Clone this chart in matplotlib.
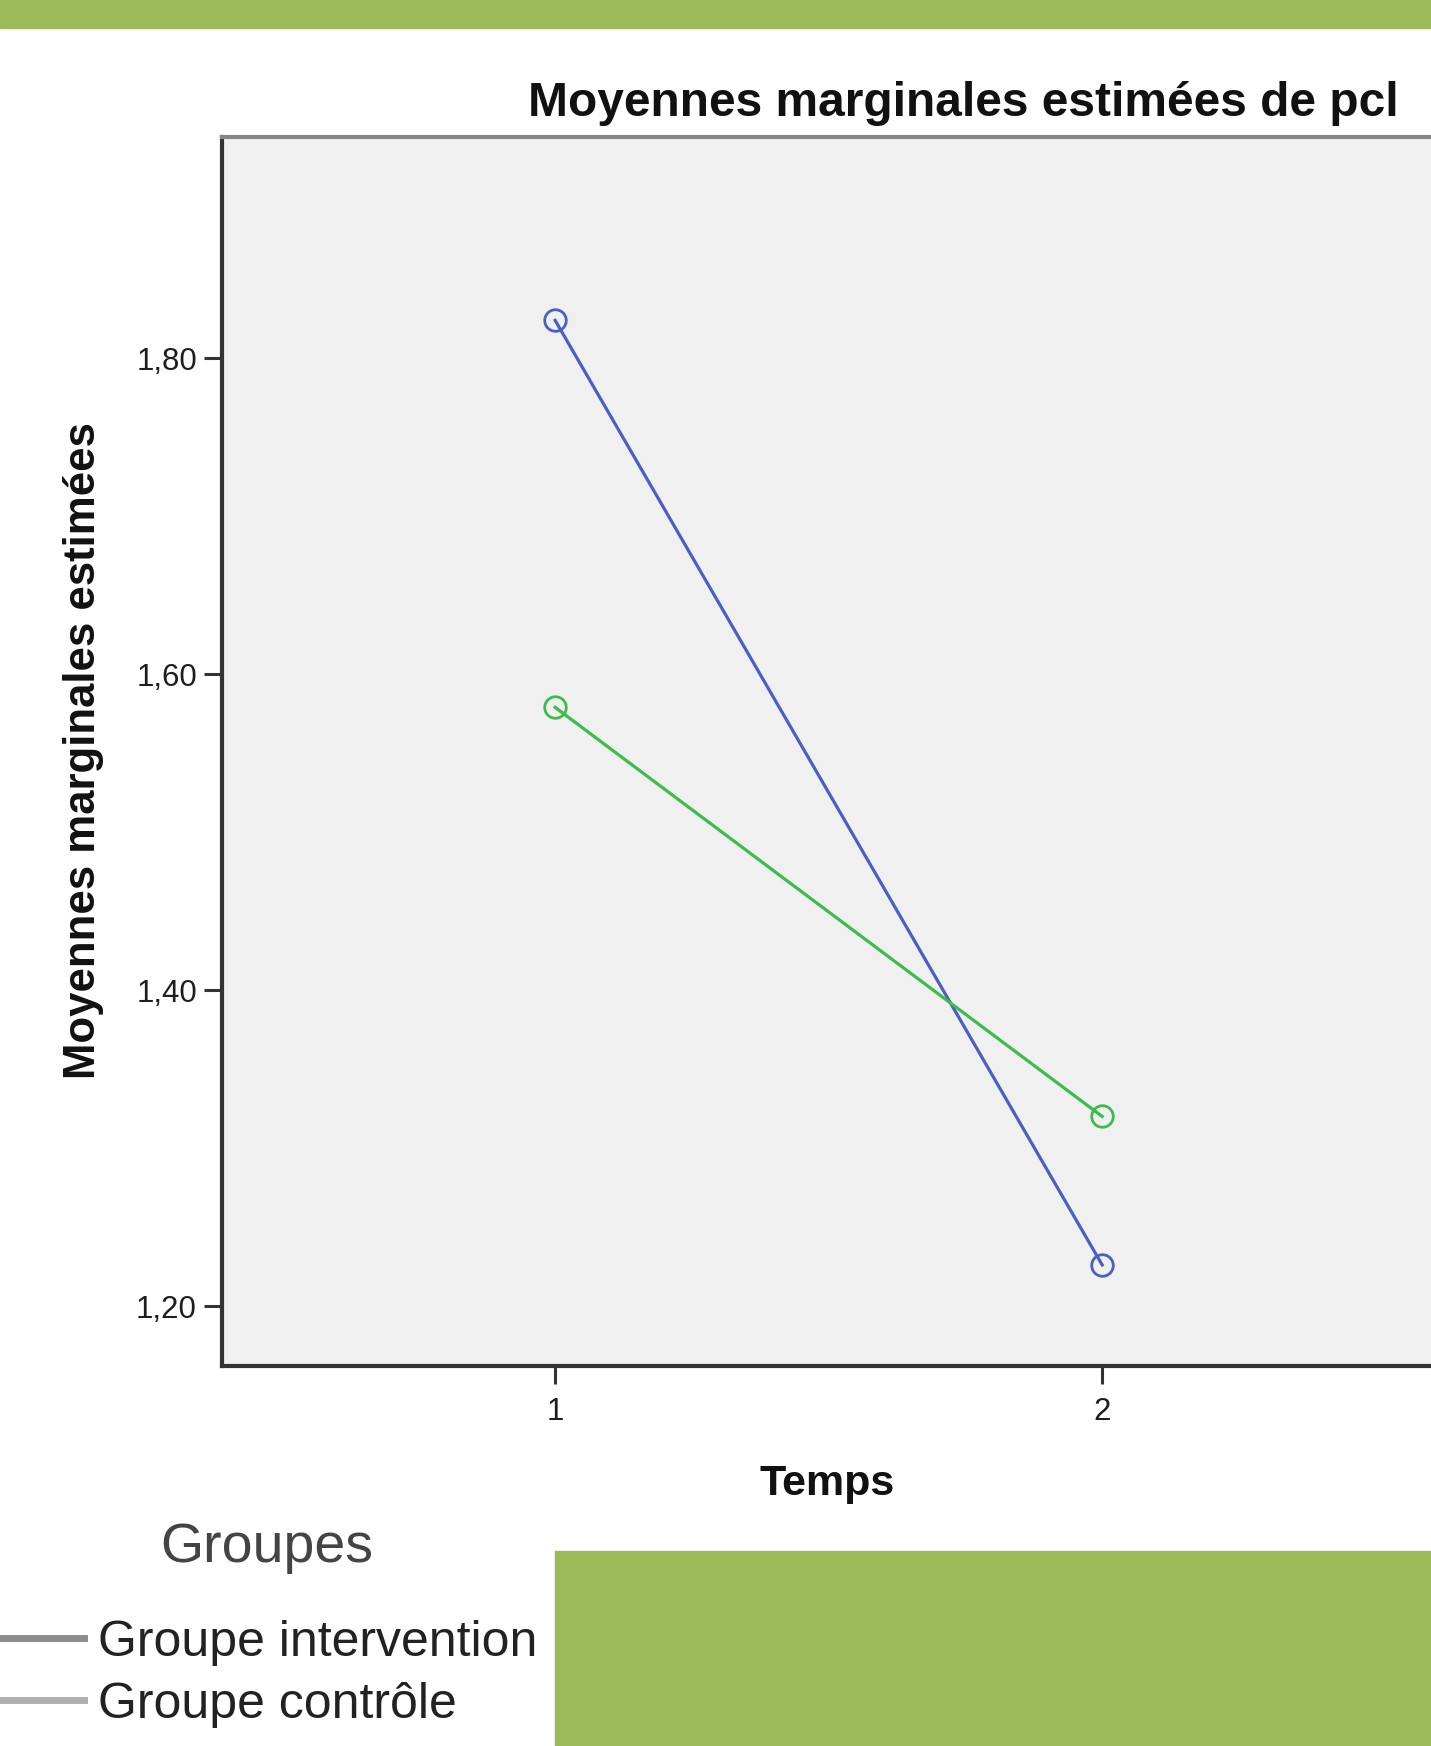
import matplotlib
matplotlib.use("Agg")
import matplotlib.pyplot as plt
from matplotlib.lines import Line2D
from matplotlib.patches import Rectangle
from matplotlib.ticker import FuncFormatter

plt.rcParams["font.family"] = ["Liberation Sans", "DejaVu Sans"]

# Data
temps = [1, 2]
intervention = [1.824, 1.226]
controle = [1.579, 1.320]
groupes = ["Groupe intervention", "Groupe contrôle"]
y_ticks = [1.20, 1.40, 1.60, 1.80]

blue = "#4a5fc1"
green = "#3dbb4c"
band = "#9bbb59"

fig = plt.figure(figsize=(14.31, 17.46), dpi=100)

# green decoration
fig.patches.append(Rectangle((0, 0.984), 1, 0.016, transform=fig.transFigure,
                             color=band, zorder=0))
fig.patches.append(Rectangle((0.3878, 0), 0.6122, 0.1117, transform=fig.transFigure,
                             color=band, zorder=0))

ax = fig.add_axes([0.1551, 0.2176, 0.8449, 0.7039])
ax.set_facecolor("#f0f0f0")

ax.plot(temps, intervention, color=blue, lw=2.3, marker="o", ms=15.5,
        mfc="none", mec=blue, mew=2)
ax.plot(temps, controle, color=green, lw=2.3, marker="o", ms=15.5,
        mfc="none", mec=green, mew=2)

ax.set_xlim(0.391, 2.601)
ax.set_ylim(1.162, 1.940)
ax.set_xticks(temps)
ax.set_yticks(y_ticks)
ax.yaxis.set_major_formatter(FuncFormatter(lambda v, p: f"{v:.2f}".replace(".", ",")))
ax.tick_params(axis="both", labelsize=22.5, labelcolor="#1e1e1e", color="#333333",
               length=13, width=2.2)
ax.tick_params(axis="y", pad=5)
ax.tick_params(axis="x", pad=9)

ax.spines["right"].set_visible(False)
ax.spines["top"].set_color("#858585")
ax.spines["top"].set_linewidth(3)
for s in ["left", "bottom"]:
    ax.spines[s].set_color("#333333")
    ax.spines[s].set_linewidth(3)

fig.text(0.673, 0.9405, "Moyennes marginales estimées de pcl", fontsize=34.5,
         fontweight="bold", ha="center", va="center", color="#111111")
fig.text(0.0587, 0.5704, "Moyennes marginales estimées", fontsize=31.5,
         fontweight="bold", rotation=90, ha="center", va="center", color="#111111")
fig.text(0.578, 0.1500, "Temps", fontsize=31, fontweight="bold",
         ha="center", va="center", color="#111111")

# legend (SPSS style, grey handles)
fig.text(0.1866, 0.1136, "Groupes", fontsize=40, ha="center", va="center",
         color="#444444")
handles = [Line2D([], [], color="#8c8c8c", lw=5),
           Line2D([], [], color="#b0b0b0", lw=5)]
fig.legend(handles, groupes, loc="upper left", bbox_to_anchor=(0, 0.0722),
           bbox_transform=fig.transFigure, frameon=False, fontsize=36,
           handlelength=1.68, handletextpad=0.28, labelspacing=0.32,
           borderpad=0, borderaxespad=0, labelcolor="#222222")

fig.savefig("out.png", dpi=100)
